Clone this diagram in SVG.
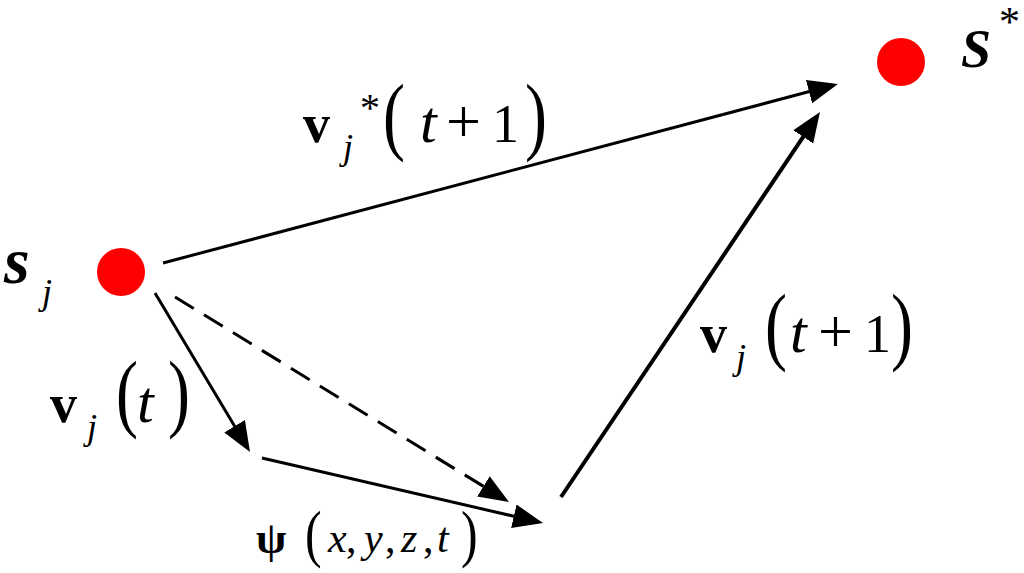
<svg xmlns="http://www.w3.org/2000/svg" width="1024" height="573" viewBox="0 0 1024 573">
<style>
.m{font-family:"Liberation Serif","Times New Roman",serif;fill:#000}
.b{font-weight:bold}
.i{font-style:italic}
.bi{font-weight:bold;font-style:italic}
.p{font-size:66px}
.ps{font-size:50px}
.ln{stroke:#000;stroke-width:3;fill:none}
.dot{fill:#ff0000}
</style>
<defs>
<marker id="ah" markerUnits="userSpaceOnUse" markerWidth="32" markerHeight="26" refX="15" refY="12" orient="auto" viewBox="0 0 32 26">
<path d="M0,0 L30,12 L0,24 z" fill="#000"/>
</marker>
</defs>
<g id="connectors">
<line class="ln" x1="163" y1="263" x2="823.5" y2="87.8" marker-end="url(#ah)"/>
<line class="ln" x1="561" y1="497" x2="811.6" y2="124.4" style="stroke-width:4" marker-end="url(#ah)"/>
<line class="ln" x1="155" y1="293" x2="242.3" y2="439.1" marker-end="url(#ah)"/>
<line class="ln" x1="262" y1="458" x2="528.4" y2="519.6" marker-end="url(#ah)"/>
<line class="ln" x1="175" y1="297" x2="496.2" y2="494.2" stroke-dasharray="22,12" marker-end="url(#ah)"/>
</g>
<g id="node-sj">
<circle class="dot" cx="121" cy="272" r="24"/>
<text class="m bi" x="4" y="283" font-size="66">s</text>
<text class="m i" x="42" y="304" font-size="36">j</text>
</g>
<g id="node-sstar">
<circle class="dot" cx="901" cy="62" r="24"/>
<text class="m bi" x="961" y="67" font-size="54">S</text>
<text class="m" x="999" y="36" font-size="42">*</text>
</g>
<g id="label-vstar">
<text class="m b" x="303" y="142" font-size="54">v</text>
<text class="m i" x="343" y="159" font-size="36">j</text>
<text class="m" x="360" y="121" font-size="40">*</text>
<text class="m p" transform="translate(383,144) scale(1,1.3)">(</text>
<text class="m i" x="420" y="142" font-size="60">t</text>
<text class="m" x="446" y="142" font-size="62">+</text>
<text class="m" x="492" y="142" font-size="54">1</text>
<text class="m p" transform="translate(525,144) scale(1,1.3)">)</text>
</g>
<g id="label-vt">
<text class="m b" x="50" y="422" font-size="54">v</text>
<text class="m i" x="87" y="439" font-size="36">j</text>
<text class="m p" transform="translate(116,421) scale(1,1.3)">(</text>
<text class="m i" x="137" y="422" font-size="60">t</text>
<text class="m p" transform="translate(168,421) scale(1,1.3)">)</text>
</g>
<g id="label-vt1">
<text class="m b" x="700" y="352" font-size="54">v</text>
<text class="m i" x="736" y="369" font-size="36">j</text>
<text class="m p" transform="translate(765,354) scale(1,1.3)">(</text>
<text class="m i" x="790" y="352" font-size="60">t</text>
<text class="m" x="818" y="352" font-size="62">+</text>
<text class="m" x="864" y="352" font-size="54">1</text>
<text class="m p" transform="translate(891,354) scale(1,1.3)">)</text>
</g>
<g id="label-psi">
<text class="m b" x="256" y="553" font-size="44">ψ</text>
<text class="m ps" transform="translate(305,555) scale(1,1.25)">(</text>
<text class="m i" x="328" y="552" font-size="42">x</text>
<text class="m" x="346" y="552" font-size="42">,</text>
<text class="m i" x="364" y="552" font-size="42">y</text>
<text class="m" x="385" y="552" font-size="42">,</text>
<text class="m i" x="401" y="552" font-size="42">z</text>
<text class="m" x="423" y="552" font-size="42">,</text>
<text class="m i" x="437" y="552" font-size="42">t</text>
<text class="m ps" transform="translate(461,555) scale(1,1.25)">)</text>
</g>
</svg>
